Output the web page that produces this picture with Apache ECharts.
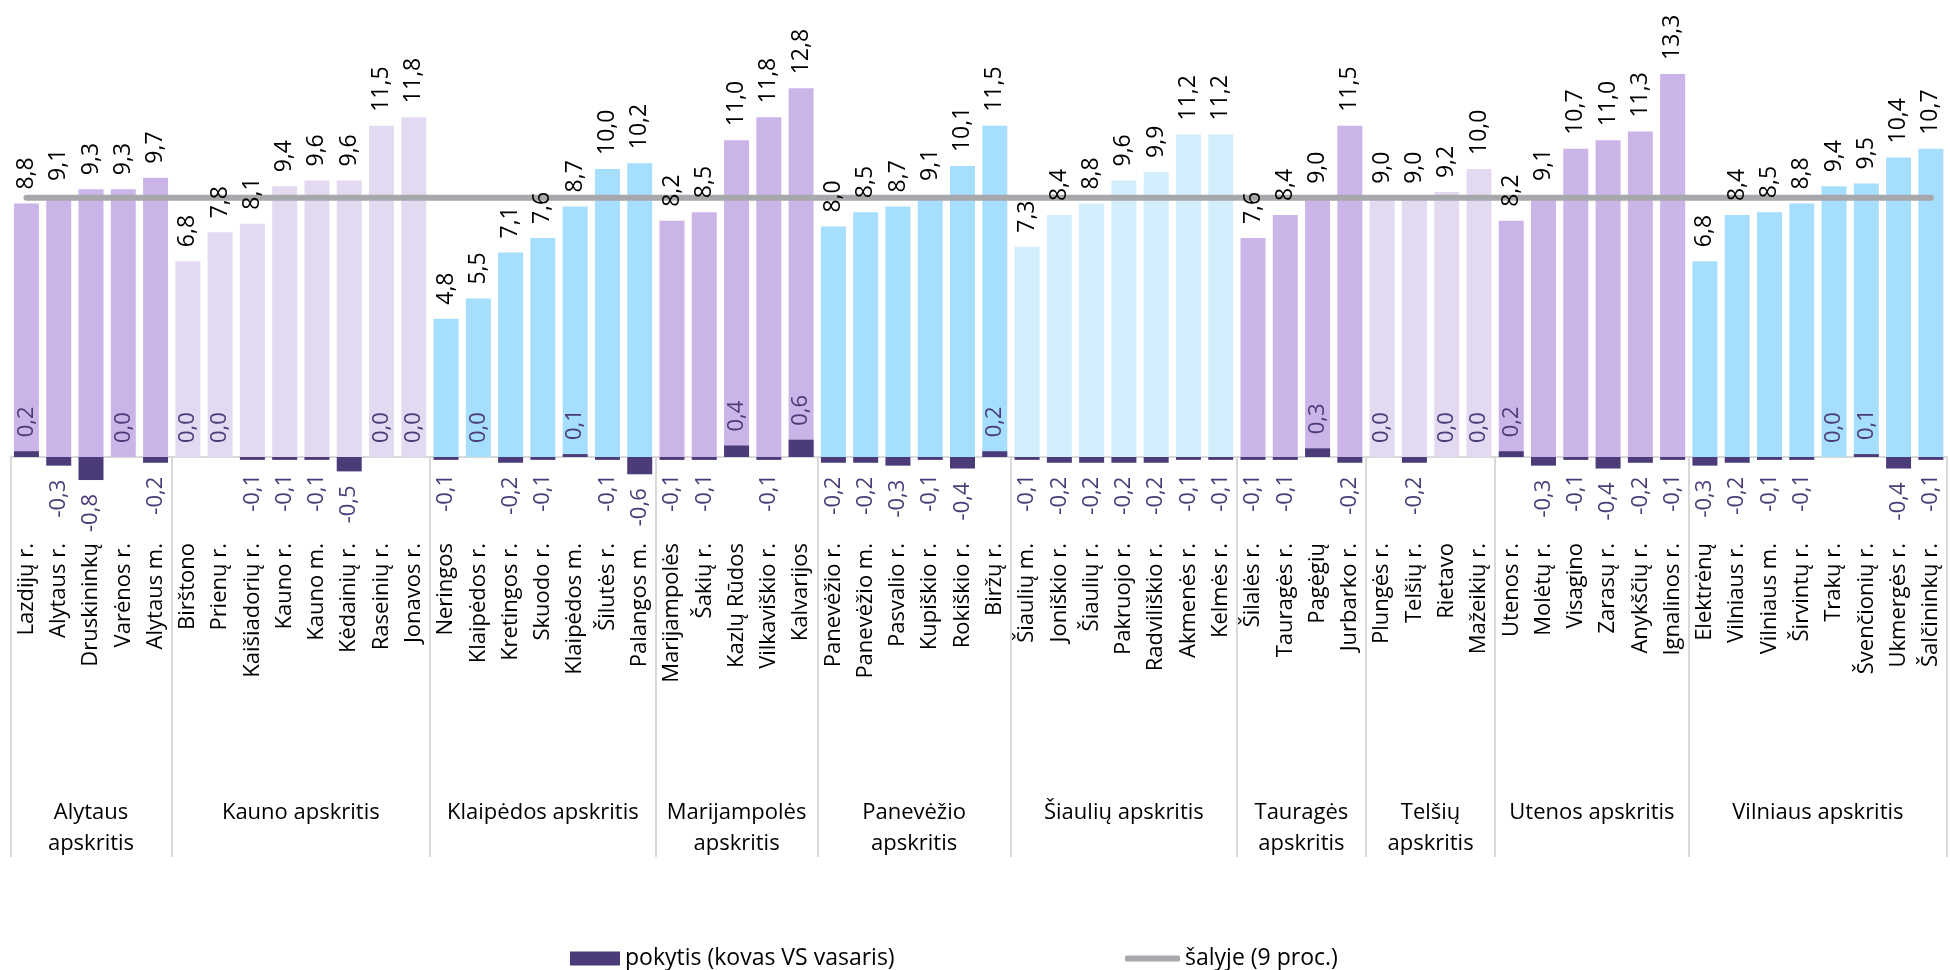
<!DOCTYPE html>
<html>
<head>
<meta charset="utf-8">
<script src="https://cdn.jsdelivr.net/npm/echarts@6/dist/echarts.min.js"></script>
<style>
html,body{margin:0;padding:0;background:#fff;}
#chart{width:1950px;height:970px;}
</style>
</head>
<body>
<div id="chart"></div>
<script>
// ---------------- DATA ----------------
const categories = [
  'Lazdijų r.','Alytaus r.','Druskininkų','Varėnos r.','Alytaus m.',
  'Birštono','Prienų r.','Kaišiadorių r.','Kauno r.','Kauno m.','Kėdainių r.','Raseinių r.','Jonavos r.',
  'Neringos','Klaipėdos r.','Kretingos r.','Skuodo r.','Klaipėdos m.','Šilutės r.','Palangos m.',
  'Marijampolės','Šakių r.','Kazlų Rūdos','Vilkaviškio r.','Kalvarijos',
  'Panevėžio r.','Panevėžio m.','Pasvalio r.','Kupiškio r.','Rokiškio r.','Biržų r.',
  'Šiaulių m.','Joniškio r.','Šiaulių r.','Pakruojo r.','Radviliškio r.','Akmenės r.','Kelmės r.',
  'Šilalės r.','Tauragės r.','Pagėgių','Jurbarko r.',
  'Plungės r.','Telšių r.','Rietavo','Mažeikių r.',
  'Utenos r.','Molėtų r.','Visagino','Zarasų r.','Anykščių r.','Ignalinos r.',
  'Elektrėnų','Vilniaus r.','Vilniaus m.','Širvintų r.','Trakų r.','Švenčionių r.','Ukmergės r.','Šalčininkų r.'
];
const rates = [
  8.8, 9.1, 9.3, 9.3, 9.7,
  6.8, 7.8, 8.1, 9.4, 9.6, 9.6, 11.5, 11.8,
  4.8, 5.5, 7.1, 7.6, 8.7, 10.0, 10.2,
  8.2, 8.5, 11.0, 11.8, 12.8,
  8.0, 8.5, 8.7, 9.1, 10.1, 11.5,
  7.3, 8.4, 8.8, 9.6, 9.9, 11.2, 11.2,
  7.6, 8.4, 9.0, 11.5,
  9.0, 9.0, 9.2, 10.0,
  8.2, 9.1, 10.7, 11.0, 11.3, 13.3,
  6.8, 8.4, 8.5, 8.8, 9.4, 9.5, 10.4, 10.7
];
const changes = [
  0.2, -0.3, -0.8, 0.0, -0.2,
  0.0, 0.0, -0.1, -0.1, -0.1, -0.5, 0.0, 0.0,
  -0.1, 0.0, -0.2, -0.1, 0.1, -0.1, -0.6,
  -0.1, -0.1, 0.4, -0.1, 0.6,
  -0.2, -0.2, -0.3, -0.1, -0.4, 0.2,
  -0.1, -0.2, -0.2, -0.2, -0.2, -0.1, -0.1,
  -0.1, -0.1, 0.3, -0.2,
  0.0, -0.2, 0.0, 0.0,
  0.2, -0.3, -0.1, -0.4, -0.2, -0.1,
  -0.3, -0.2, -0.1, -0.1, 0.0, 0.1, -0.4, -0.1
];
const groupNames = [
  'Alytaus\napskritis','Kauno apskritis','Klaipėdos apskritis','Marijampolės\napskritis',
  'Panevėžio\napskritis','Šiaulių apskritis','Tauragės\napskritis','Telšių\napskritis',
  'Utenos apskritis','Vilniaus apskritis'
];
const groupSizes = [5, 8, 7, 5, 6, 7, 4, 4, 6, 8];
const groupColors = ['#CBB5E8','#E3DAF2','#A6DEFD','#CBB5E8','#A6DEFD','#D2EEFD','#CBB5E8','#E3DAF2','#CBB5E8','#A6DEFD'];
const countryRate = 9;
const legendChange = 'pokytis (kovas VS vasaris)';
const legendCountry = 'šalyje (9 proc.)';

// ---------------- BUILD ----------------
const FONT = "'Open Sans', sans-serif";
const CHANGE_COLOR = '#4B3B78';
const LINE_COLOR = '#A7A8AB';
const fmt = v => v.toFixed(1).replace('.', ',');

const itemGroup = [];
const groupStarts = [];
groupSizes.forEach((n, g) => { groupStarts.push(itemGroup.length); for (let k = 0; k < n; k++) itemGroup.push(g); });

// half-slot axis (boundaryGap false, 2*N+1 points) for group separators and group labels
const slotCount = categories.length * 2 + 1;
const slots = Array.from({length: slotCount}, (_, i) => String(i));
const slotLabel = {};
groupStarts.forEach((s, g) => { slotLabel[2 * s + groupSizes[g]] = groupNames[g]; });
const boundarySet = new Set(groupStarts.map(s => 2 * s));
boundarySet.add(categories.length * 2);

const mainData = rates.map((v, i) => ({ value: v, itemStyle: { color: groupColors[itemGroup[i]] } }));
const changeData = changes.map(v => ({
  value: v,
  label: v < 0
    ? { position: 'bottom', align: 'right' }
    : { position: 'top', align: 'left' }
}));
const lineData = categories.map(() => countryRate);

const chart = echarts.init(document.getElementById('chart'));
chart.setOption({
  animation: false,
  backgroundColor: '#ffffff',
  textStyle: { fontFamily: FONT },
  grid: { left: 10.3, width: 1944, top: 25, height: 432, containLabel: false },
  yAxis: { type: 'value', min: 0, max: 15, show: false },
  xAxis: [
    {
      type: 'category', data: categories, position: 'bottom',
      axisLine: { show: true, onZero: false, lineStyle: { color: '#D9D9D9', width: 2 } },
      axisTick: { show: false },
      axisLabel: { interval: 0, rotate: 90, margin: 86, fontSize: 22, color: '#000', fontFamily: FONT }
    },
    {
      type: 'category', data: slots, boundaryGap: false, position: 'bottom', offset: 0,
      axisLine: { show: false, onZero: false },
      axisTick: { show: true, interval: (i) => boundarySet.has(i), length: 400, lineStyle: { color: '#D9D9D9', width: 2 } },
      axisLabel: {
        interval: 0, margin: 340, verticalAlign: 'top', align: 'center',
        formatter: (v, i) => {
          const t = slotLabel[i];
          return t ? t.split('\n').map(s => '{g|' + s + '}').join('\n') : '';
        },
        rich: { g: { fontSize: 22, lineHeight: 31, color: '#000', fontFamily: FONT } }
      }
    }
  ],
  legend: [
    {
      data: [{ name: legendChange, icon: 'rect' }], left: 565, top: 942,
      itemWidth: 50, itemHeight: 14, selectedMode: false,
      textStyle: { fontSize: 23, color: '#000', fontFamily: FONT }
    },
    {
      data: [{ name: legendCountry, icon: 'roundRect' }], left: 1120, top: 942,
      itemWidth: 55, itemHeight: 6, selectedMode: false,
      itemStyle: { color: LINE_COLOR },
      textStyle: { fontSize: 23, color: '#000', fontFamily: FONT }
    }
  ],
  series: [
    {
      name: 'rate', type: 'bar', xAxisIndex: 0, data: mainData, clip: false,
      barWidth: 25, barGap: '-100%', z: 2, silent: true
    },
    {
      name: legendChange, type: 'bar', xAxisIndex: 0, data: changeData, clip: false,
      barWidth: 25, barGap: '-100%', z: 2, silent: true,
      itemStyle: { color: CHANGE_COLOR },
      label: {
        show: true, rotate: 90, verticalAlign: 'middle', distance: 14,
        fontSize: 22, color: CHANGE_COLOR, fontFamily: FONT,
        formatter: p => fmt(p.value)
      }
    },
    {
      name: legendCountry, type: 'line', xAxisIndex: 0, data: lineData,
      symbol: 'none', z: 3, silent: true,
      itemStyle: { color: LINE_COLOR },
      lineStyle: { color: LINE_COLOR, width: 6, cap: 'round' }
    },
    {
      name: 'rateLabels', type: 'bar', xAxisIndex: 0, data: rates, clip: false,
      barWidth: 25, barGap: '-100%', z: 4, silent: true,
      itemStyle: { color: 'rgba(0,0,0,0)' },
      label: {
        show: true, position: 'top', rotate: 90, align: 'left', verticalAlign: 'middle',
        distance: 14, fontSize: 23, color: '#000', fontFamily: FONT,
        formatter: p => fmt(p.value)
      }
    }
  ]
});
</script>
</body>
</html>
